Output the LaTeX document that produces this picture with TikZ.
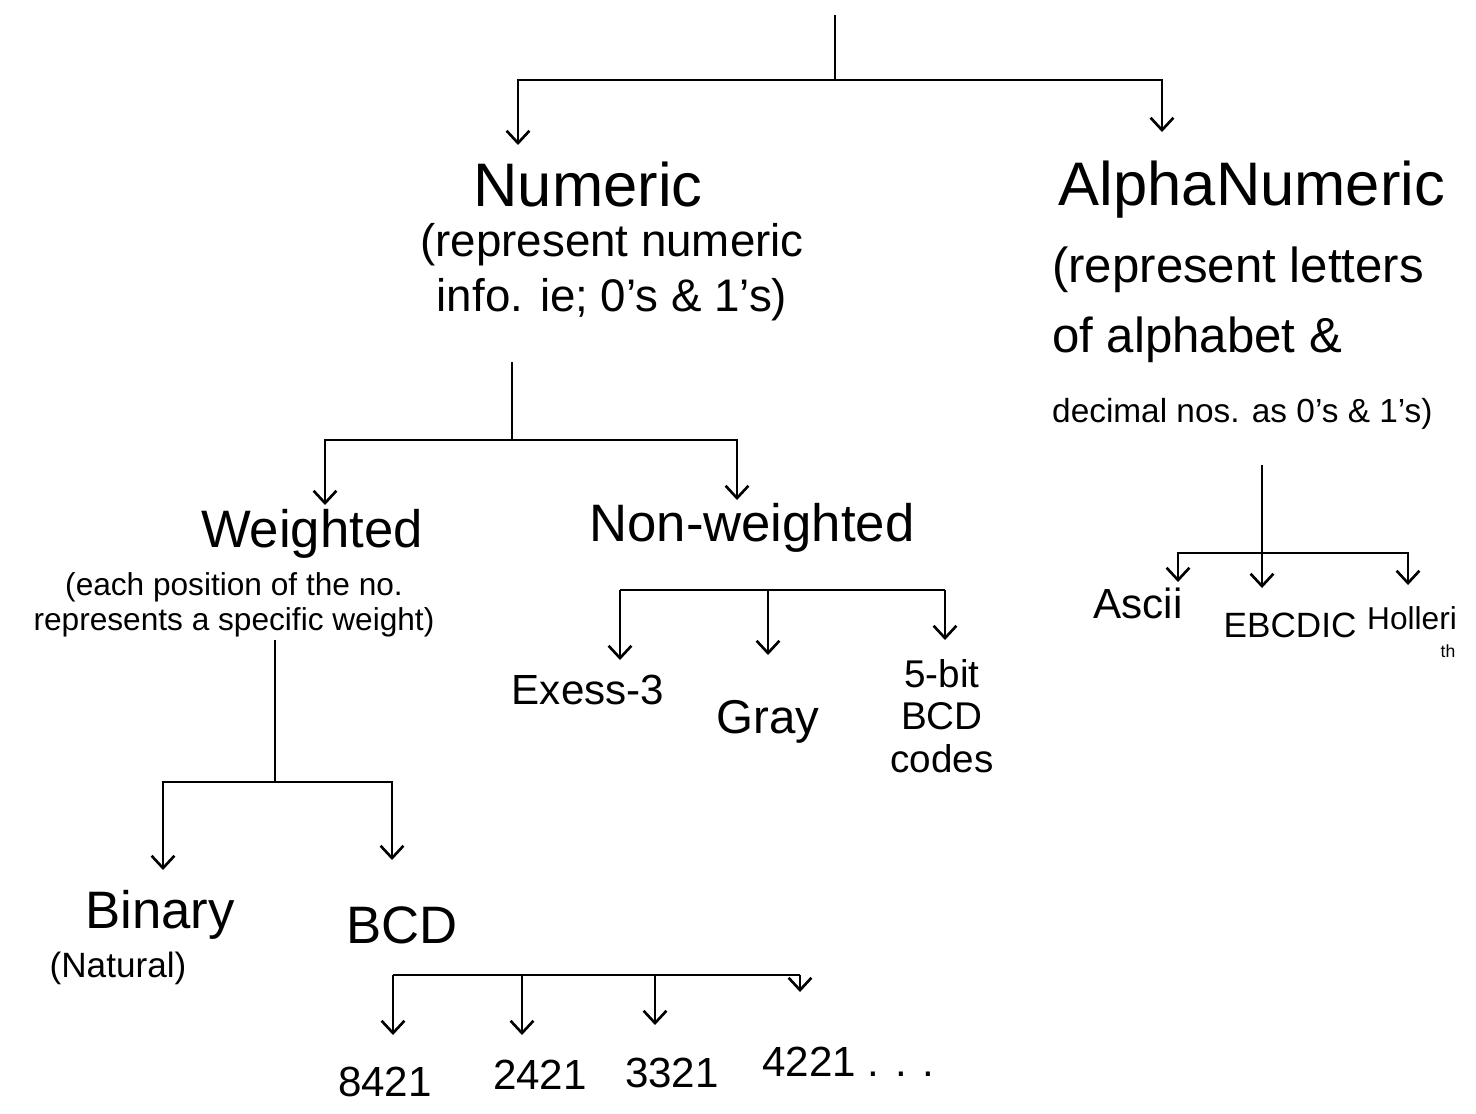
\documentclass[tikz,border=0pt]{standalone}
\usepackage{fontspec}
\setmainfont{Liberation Sans}
\usetikzlibrary{arrows.meta}

\begin{document}
\begin{tikzpicture}[x=0.02cm,y=-0.02cm,line width=1.5pt,
    arr/.style={-{Straight Barb[length=7pt,width=13pt,line width=1.5pt]}},
    big/.style={font=\fontsize{30}{34}\selectfont},
    mid/.style={font=\fontsize{24}{26}\selectfont,align=center},
    note/.style={font=\fontsize{26}{31}\selectfont,align=center},
    small/.style={font=\fontsize{18}{21}\selectfont,align=center}]
  \useasboundingbox (0,0) rectangle (1476,1113);

  % root
  \coordinate (rootTop) at (835,15);
  \coordinate (rootJ) at (835,80);
  \coordinate (numIn) at (518,145);
  \coordinate (alphaIn) at (1162,132);
  \draw (rootTop) -- (rootJ);
  \draw[arr] (rootJ) -| (numIn);
  \draw[arr] (rootJ) -| (alphaIn);

  % numeric
  \node[big,font=\fontsize{35}{38}\selectfont] (num) at (588,185) {Numeric};
  \node[note] (numNote) at (612,272) {(represent numeric\\info. ie; 0's \& 1's)};
  \coordinate (numOut) at (512,362);
  \coordinate (numJ) at (512,440);
  \coordinate (wtIn) at (325,505);
  \coordinate (nwIn) at (737,500);
  \draw (numOut) -- (numJ);
  \draw[arr] (numJ) -| (wtIn);
  \draw[arr] (numJ) -| (nwIn);

  % alphanumeric
  \node[big,font=\fontsize{35}{38}\selectfont] (alpha) at (1252,190) {AlphaNumeric};
  \node[note,align=left,anchor=west,font=\fontsize{28}{40}\selectfont] (alphaNote) at (1045,338)
    {(represent letters\\of alphabet \&\\{\fontsize{19}{22}\selectfont decimal nos. as 0's \& 1's)}};
  \coordinate (alOut) at (1262,465);
  \coordinate (alJ) at (1262,553);
  \coordinate (ascIn) at (1178,582);
  \coordinate (ebIn) at (1262,588);
  \coordinate (hoIn) at (1408,585);
  \draw (alOut) -- (alJ);
  \draw[arr] (alJ) -| (ascIn);
  \draw[arr] (alJ) -- (ebIn);
  \draw[arr] (alJ) -| (hoIn);
  \node[mid] (ascii) at (1138,603) {Ascii};
  \node[mid,font=\fontsize{20}{22}\selectfont] (ebcdic) at (1290,625) {EBCDIC};
  \node[mid,font=\fontsize{18}{20}\selectfont] (holl) at (1412,618) {Holleri};
  \node[font=\fontsize{10}{12}\selectfont] (hollTh) at (1448,651) {th};

  % weighted
  \node[big] (wt) at (312,534) {Weighted};
  \node[small,font=\fontsize{18}{20}\selectfont] (wtNote) at (234,605)
    {(each position of the no.\\represents a specific weight)};
  \coordinate (wtOut) at (275,640);
  \coordinate (wtJ) at (275,782);
  \coordinate (binIn) at (163,870);
  \coordinate (bcdIn) at (392,860);
  \draw (wtOut) -- (wtJ);
  \draw[arr] (wtJ) -| (binIn);
  \draw[arr] (wtJ) -| (bcdIn);
  \node[big] (bin) at (160,915) {Binary};
  \node[mid,font=\fontsize{20}{22}\selectfont] (nat) at (118,968) {(Natural)};
  \node[big] (bcd) at (402,925) {BCD};

  % BCD codes
  \coordinate (bcdL) at (393,975);
  \coordinate (bcdR) at (800,975);
  \draw (bcdL) -- (bcdR);
  \foreach \x/\e in {393/1035, 522/1035, 655/1025, 800/992}
    \draw[arr] (\x,975) -- (\x,\e);
  \node[mid] (c8421) at (385,1082) {8421};
  \node[mid] (c2421) at (540,1075) {2421};
  \node[mid] (c3321) at (672,1073) {3321};
  \node[mid,anchor=west] (c4221) at (755,1062) {4221 . . .};

  % non-weighted
  \node[big] (nw) at (752,528) {Non-weighted};
  \coordinate (nwL) at (620,590);
  \coordinate (nwJ) at (768,590);
  \coordinate (nwR) at (945,590);
  \draw (nwL) -- (nwR);
  \draw[arr] (nwL) -- (620,660);
  \draw[arr] (nwJ) -- (768,655);
  \draw[arr] (nwR) -- (945,640);
  \node[mid] (ex3) at (588,690) {Exess-3};
  \node[mid,font=\fontsize{27}{30}\selectfont] (gray) at (768,722) {Gray};
  \node[mid,font=\fontsize{22}{24}\selectfont] (fbit) at (942,716) {5-bit\\BCD\\codes};
\end{tikzpicture}
\end{document}
